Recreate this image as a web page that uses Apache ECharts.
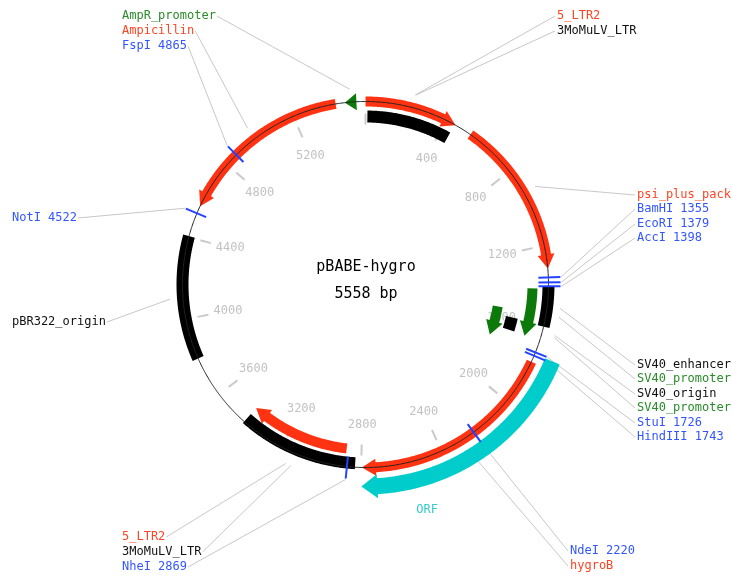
<!DOCTYPE html>
<html>
<head>
<meta charset="utf-8">
<script src="https://cdn.jsdelivr.net/npm/echarts@6/dist/echarts.min.js"></script>
<style>
html, body { margin: 0; padding: 0; background: #fff; }
#plasmid { width: 732px; height: 577px; }
</style>
</head>
<body>
<div id="plasmid"></div>
<script>
// pBABE-hygro plasmid map
var seqLength = 5558;
var plasmidName = 'pBABE-hygro';

// features
var featureNames = ['5_LTR2', '3MoMuLV_LTR', 'psi_plus_pack', 'SV40_enhancer', 'SV40_promoter', 'SV40_origin',
    'SV40_promoter', 'hygroB', 'ORF', '3MoMuLV_LTR', '5_LTR2', 'pBR322_origin', 'Ampicillin', 'AmpR_promoter'];
var featureStart = [0, 10, 540, 1400, 1410, 1585, 1535, 1775, 1735, 2830, 2880, 3800, 4560, 5458];
var featureEnd = [455, 450, 1312, 1595, 1665, 1660, 1728, 2797, 2797, 3420, 3420, 4405, 5413, 5514];
var featureStrand = [1, 0, 1, 0, 1, 0, 1, 1, 1, 0, 1, 0, -1, -1]; // 1 正向, -1 反向, 0 无方向
var featureType = ['ltr', 'misc', 'ltr', 'misc', 'promoter', 'misc', 'promoter', 'gene', 'orf', 'misc', 'ltr', 'misc', 'gene', 'promoter'];

// restriction sites
var siteNames = ['BamHI', 'EcoRI', 'AccI', 'StuI', 'HindIII', 'NdeI', 'NheI', 'NotI', 'FspI'];
var sitePos = [1355, 1379, 1398, 1726, 1743, 2220, 2869, 4522, 4865];

// ruler
var tickValues = [0, 400, 800, 1200, 1600, 2000, 2400, 2800, 3200, 3600, 4000, 4400, 4800, 5200];

// ---- layout (pixels) ----
var backboneR = 183;
var featureRing = [183, 168, 183, 183, 167, 150, 134, 183, 202, 179, 165, 183, 183, 183];
// label text position [x, y], null = label sits beside the feature without a leader line
var featureLabelAt = [[557, 16], [557, 31], [637, 195], [637, 365], [637, 379], [637, 394], [637, 408],
    [570, 566], null, [122, 552], [122, 537], [12, 322], [122, 31], [122, 16]];
var orfLabelSpot = [234, 2543];
var siteLabelAt = [[637, 209], [637, 224], [637, 238], [637, 423], [637, 437], [570, 551], [122, 567], [12, 218], [122, 46]];

var typeStyle = {
    ltr: { color: '#ff3311', text: '#ff4422', width: 10, headLen: 14, headWidth: 17 },
    gene: { color: '#ff3311', text: '#ff4422', width: 10, headLen: 14, headWidth: 17 },
    promoter: { color: '#0b7a0b', text: '#2a8c2a', width: 10, headLen: 14, headWidth: 17 },
    orf: { color: '#00cccc', text: '#33cccc', width: 16, headLen: 16, headWidth: 24 },
    misc: { color: '#000000', text: '#111111', width: 12 }
};
var siteColor = '#2442ff', siteText = '#3355ff';
var monoFont = '"DejaVu Sans Mono", "Liberation Mono", monospace';

var measureCtx = document.createElement('canvas').getContext('2d');
measureCtx.font = '12px ' + monoFont;

function arcPath(api, r, from, to) {
    var pts = [];
    var steps = Math.max(1, Math.ceil(Math.abs(to - from) / 6));
    for (var k = 0; k <= steps; k++) {
        pts.push(api.coord([r, from + (to - from) * k / steps]));
    }
    return pts;
}

function featurePoints(api, i) {
    var st = typeStyle[featureType[i]];
    var r = featureRing[i], hw = st.width / 2;
    var s = featureStart[i], e = featureEnd[i], dir = featureStrand[i];
    if (!dir) {
        return arcPath(api, r + hw, s, e).concat(arcPath(api, r - hw, e, s));
    }
    var headLen = st.headLen / (2 * Math.PI * r) * seqLength;
    var tip = dir > 0 ? e : s, tail = dir > 0 ? s : e;
    var base = tip - dir * Math.min(headLen, Math.abs(e - s));
    return arcPath(api, r + hw, tail, base)
        .concat([api.coord([r + st.headWidth / 2, base]), api.coord([r, tip]), api.coord([r - st.headWidth / 2, base])])
        .concat(arcPath(api, r - hw, base, tail));
}

function callout(api, text, color, at, target) {
    var w = measureCtx.measureText(text).width;
    var end = api.coord([196, target]);
    var sx = at[0] < 366 ? at[0] + w + 1 : at[0] - 2;
    return {
        type: 'group',
        children: [{
            type: 'line',
            shape: { x1: sx, y1: at[1], x2: end[0], y2: end[1] },
            style: { stroke: '#c8c8c8', lineWidth: 1 }
        }, {
            type: 'text',
            x: at[0], y: at[1],
            style: {
                text: text, fill: color, font: '12px ' + monoFont,
                align: 'left', verticalAlign: 'middle', textAlign: 'left', textVerticalAlign: 'middle'
            }
        }]
    };
}

var chart = echarts.init(document.getElementById('plasmid'));
chart.setOption({
    animation: false,
    backgroundColor: '#ffffff',
    polar: { center: [365.5, 284.5], radius: 240 },
    angleAxis: { type: 'value', min: 0, max: seqLength, startAngle: 90, clockwise: true, show: false },
    radiusAxis: { type: 'value', min: 0, max: 240, show: false },
    graphic: [{
        type: 'text', x: 366, y: 267,
        style: { text: plasmidName, font: '15px ' + monoFont, fill: '#000', align: 'center', verticalAlign: 'middle', textAlign: 'center', textVerticalAlign: 'middle' }
    }, {
        type: 'text', x: 366, y: 294,
        style: { text: seqLength + ' bp', font: '15px ' + monoFont, fill: '#000', align: 'center', verticalAlign: 'middle', textAlign: 'center', textVerticalAlign: 'middle' }
    }],
    series: [{
        // 刻度
        type: 'custom', coordinateSystem: 'polar', silent: true, z: 1,
        data: tickValues.map(function (v) { return [160, v]; }),
        renderItem: function (params, api) {
            var v = tickValues[params.dataIndex];
            var p1 = api.coord([160, v]), p2 = api.coord([171, v]), pt = api.coord([140, v]);
            var children = [{
                type: 'line',
                shape: { x1: p1[0], y1: p1[1], x2: p2[0], y2: p2[1] },
                style: { stroke: '#cacaca', lineWidth: 2 }
            }];
            if (v > 0) {
                children.push({
                    type: 'text', x: pt[0], y: pt[1],
                    style: { text: String(v), fill: '#c2c2c2', font: '12px ' + monoFont, align: 'center', verticalAlign: 'middle', textAlign: 'center', textVerticalAlign: 'middle' }
                });
            }
            return { type: 'group', children: children };
        }
    }, {
        // 标注线与文字
        type: 'custom', coordinateSystem: 'polar', silent: true, z: 1,
        data: featureNames.map(function (n, i) { return [featureRing[i], featureStart[i]]; }),
        renderItem: function (params, api) {
            var i = params.dataIndex, st = typeStyle[featureType[i]];
            if (!featureLabelAt[i]) {
                var pt = api.coord(orfLabelSpot);
                return {
                    type: 'text', x: pt[0], y: pt[1],
                    style: { text: featureNames[i], fill: st.text, font: '12px ' + monoFont, align: 'center', verticalAlign: 'middle', textAlign: 'center', textVerticalAlign: 'middle' }
                };
            }
            return callout(api, featureNames[i], st.text, featureLabelAt[i], (featureStart[i] + featureEnd[i]) / 2);
        }
    }, {
        type: 'custom', coordinateSystem: 'polar', silent: true, z: 1,
        data: sitePos.map(function (p) { return [196, p]; }),
        renderItem: function (params, api) {
            var i = params.dataIndex;
            return callout(api, siteNames[i] + ' ' + sitePos[i], siteText, siteLabelAt[i], sitePos[i]);
        }
    }, {
        // 特征
        type: 'custom', coordinateSystem: 'polar', silent: true, z: 2,
        data: featureNames.map(function (n, i) { return [featureRing[i], featureStart[i]]; }),
        renderItem: function (params, api) {
            var i = params.dataIndex;
            return {
                type: 'polygon',
                shape: { points: featurePoints(api, i) },
                style: { fill: typeStyle[featureType[i]].color }
            };
        }
    }, {
        // 主环
        type: 'custom', coordinateSystem: 'polar', silent: true, z: 3,
        data: [[backboneR, 0]],
        renderItem: function (params, api) {
            return {
                type: 'polyline',
                shape: { points: arcPath(api, backboneR, 0, seqLength) },
                style: { stroke: '#222', lineWidth: 1, fill: null }
            };
        }
    }, {
        // 酶切位点
        type: 'custom', coordinateSystem: 'polar', silent: true, z: 4,
        data: sitePos.map(function (p) { return [backboneR, p]; }),
        renderItem: function (params, api) {
            var p = sitePos[params.dataIndex];
            var a = api.coord([173, p]), b = api.coord([195, p]);
            return {
                type: 'line',
                shape: { x1: a[0], y1: a[1], x2: b[0], y2: b[1] },
                style: { stroke: siteColor, lineWidth: 2 }
            };
        }
    }]
});
</script>
</body>
</html>
